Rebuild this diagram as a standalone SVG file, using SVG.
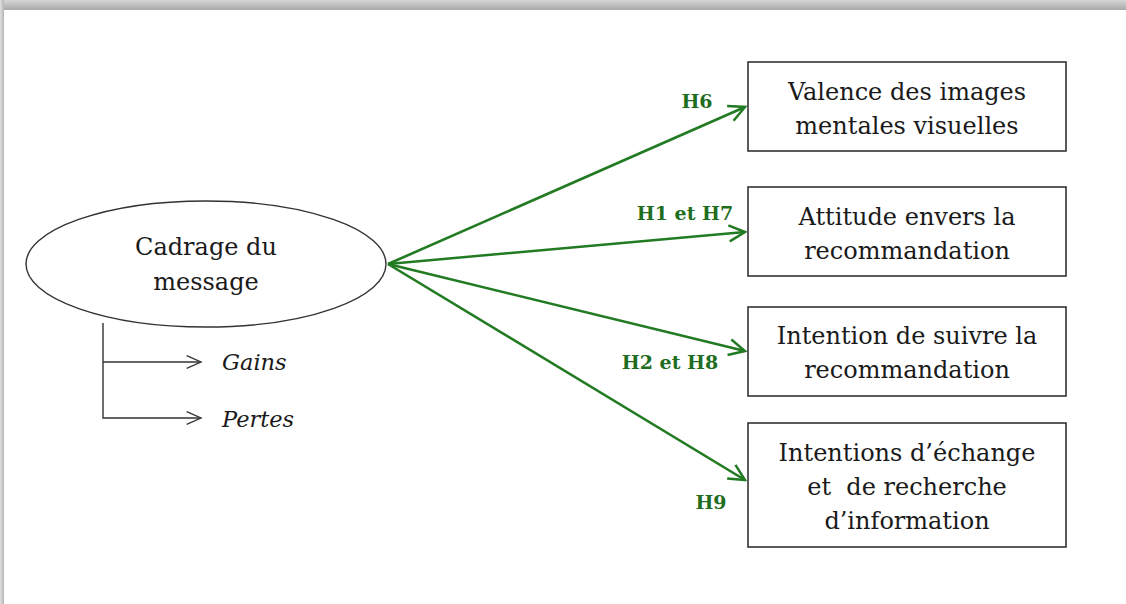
<svg xmlns="http://www.w3.org/2000/svg" width="1126" height="604" viewBox="0 0 1126 604">
<defs>
<linearGradient id="topg" x1="0" y1="0" x2="0" y2="1">
<stop offset="0" stop-color="#d6d6d6"/>
<stop offset="1" stop-color="#a9a9a9"/>
</linearGradient>
<linearGradient id="leftg" x1="0" y1="0" x2="1" y2="0">
<stop offset="0" stop-color="#e0e0e0"/>
<stop offset="1" stop-color="#b5b5b5"/>
</linearGradient>
<marker id="ga" viewBox="0 0 20 20" refX="18" refY="10" markerWidth="20" markerHeight="20" markerUnits="userSpaceOnUse" orient="auto">
<path d="M2,2 L18,10 L2,18" fill="none" stroke="#227a22" stroke-width="2.5"/>
</marker>
<marker id="ka" viewBox="0 0 20 20" refX="18" refY="10" markerWidth="18" markerHeight="18" markerUnits="userSpaceOnUse" orient="auto">
<path d="M2,3 L18,10 L2,17" fill="none" stroke="#333" stroke-width="1.5"/>
</marker>
</defs>
<style>
.box{fill:#fff;stroke:#333;stroke-width:1.6}
.t{font-family:"DejaVu Serif","Liberation Serif",serif;font-size:24px;fill:#1a1a1a;text-anchor:middle}
.i{font-family:"DejaVu Serif","Liberation Serif",serif;font-size:22.5px;font-style:italic;fill:#1a1a1a}
.h{font-family:"DejaVu Serif","Liberation Serif",serif;font-size:19px;font-weight:bold;fill:#1f6e1f}
.g{stroke:#227a22;stroke-width:2.6;fill:none}
.k{stroke:#333;stroke-width:1.4;fill:none}
</style>
<rect width="1126" height="604" fill="#fff"/>
<rect x="0" y="0" width="1126" height="10" fill="url(#topg)"/>
<rect x="0" y="0" width="4" height="604" fill="url(#leftg)"/>
<g id="connectors">
<line class="g" x1="388" y1="264" x2="745" y2="107" marker-end="url(#ga)"/>
<line class="g" x1="388" y1="264" x2="745" y2="232" marker-end="url(#ga)"/>
<line class="g" x1="388" y1="264" x2="745" y2="351" marker-end="url(#ga)"/>
<line class="g" x1="388" y1="264" x2="745" y2="480" marker-end="url(#ga)"/>
<polyline class="k" points="103,323 103,418 201,418" marker-end="url(#ka)"/>
<line class="k" x1="103" y1="362" x2="201" y2="362" marker-end="url(#ka)"/>
<text class="h" x="697" y="108" text-anchor="middle">H6</text>
<text class="h" x="685" y="220" text-anchor="middle">H1 et H7</text>
<text class="h" x="670" y="369" text-anchor="middle">H2 et H8</text>
<text class="h" x="711" y="509" text-anchor="middle">H9</text>
</g>
<g id="cadrage">
<ellipse cx="206" cy="264" rx="180" ry="63" fill="#fff" stroke="#333" stroke-width="1.4"/>
<text class="t" x="206" y="255">Cadrage du</text>
<text class="t" x="206" y="290">message</text>
</g>
<g id="gains"><text class="i" x="222" y="370">Gains</text></g>
<g id="pertes"><text class="i" x="222" y="427">Pertes</text></g>
<g id="valence">
<rect class="box" x="748" y="62" width="318" height="89"/>
<text class="t" x="907" y="100">Valence des images</text>
<text class="t" x="907" y="134">mentales visuelles</text>
</g>
<g id="attitude">
<rect class="box" x="748" y="187" width="318" height="89"/>
<text class="t" x="907" y="225">Attitude envers la</text>
<text class="t" x="907" y="259">recommandation</text>
</g>
<g id="intention">
<rect class="box" x="748" y="307" width="318" height="89"/>
<text class="t" x="907" y="344">Intention de suivre la</text>
<text class="t" x="907" y="378">recommandation</text>
</g>
<g id="echange">
<rect class="box" x="748" y="423" width="318" height="124"/>
<text class="t" x="907" y="461">Intentions d’échange</text>
<text class="t" x="907" y="495" xml:space="preserve">et  de recherche</text>
<text class="t" x="907" y="529">d’information</text>
</g>
</svg>
